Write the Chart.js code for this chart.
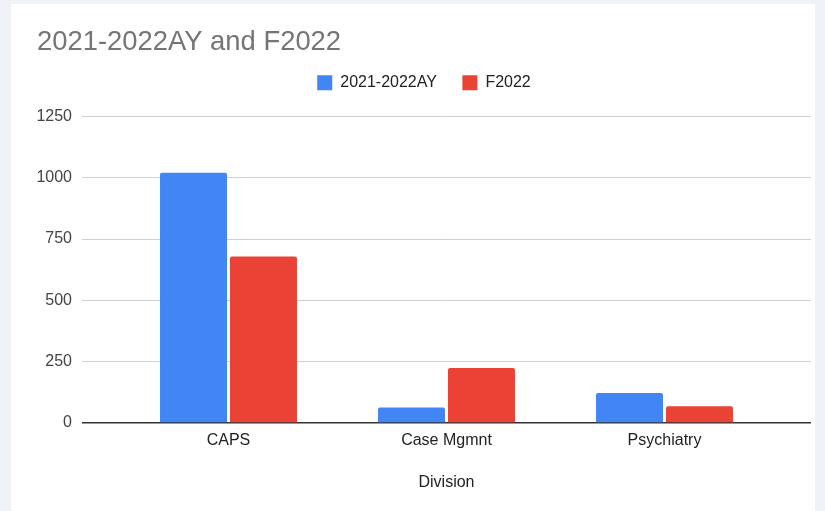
<!DOCTYPE html>
<html>
<head>
<meta charset="utf-8">
<script src="https://cdn.jsdelivr.net/npm/chart.js@4"></script>
<style>
  html, body { margin: 0; padding: 0; background: #eff3f8; }
  #card { position: absolute; left: 11px; top: 4px; width: 804px; height: 507px; background: #fff; }
  #wrap { position: absolute; left: 0; top: 0; width: 825px; height: 511px; }
</style>
</head>
<body>
<div id="card"></div>
<div id="wrap"><canvas id="chart" width="825" height="511"></canvas></div>
<script>
const divisions = ["CAPS", "Case Mgmnt", "Psychiatry"];
const seriesNames = ["2021-2022AY", "F2022"];
const ay2122 = [1020, 63, 122];
const f2022 = [679, 224, 68];
const yTicks = [0, 250, 500, 750, 1000, 1250];

const FONT = "'Liberation Sans', Arial, sans-serif";

// bars sit on a linear x axis so the categories can be inset like the original
const toPoints = vals => vals.map((v, i) => ({ x: i, y: v }));

new Chart(document.getElementById("chart"), {
  type: "bar",
  data: {
    datasets: [
      { label: seriesNames[0], data: toPoints(ay2122), backgroundColor: "#4285f4" },
      { label: seriesNames[1], data: toPoints(f2022), backgroundColor: "#ea4335" },
    ],
  },
  options: {
    responsive: false,
    animation: false,
    categoryPercentage: 0.642,
    barPercentage: 0.957,
    borderRadius: { topLeft: 2, topRight: 2 },
    borderSkipped: "start",
    layout: { padding: { left: 37, right: 14, top: 4, bottom: 8 } },
    plugins: {
      tooltip: { enabled: false },
      title: {
        display: true,
        text: "2021-2022AY and F2022",
        align: "start",
        color: "#757575",
        font: { family: FONT, size: 27.4, weight: "normal", lineHeight: 0.5 },
        padding: { top: 31.5, bottom: 0 },
      },
      legend: {
        labels: {
          color: "#222",
          boxWidth: 15,
          boxHeight: 15,
          padding: 25.5,
          font: { family: FONT, size: 16 },
        },
      },
      // empty spacer between the legend and the plot
      subtitle: {
        display: true,
        text: "",
        weight: 500,
        padding: 0,
        font: { size: 15.7, lineHeight: 1 },
      },
    },
    scales: {
      x: {
        type: "linear",
        offset: false,
        bounds: "data",
        min: -0.672,
        max: divisions.length - 1 + 0.672,
        afterBuildTicks: s => { s.ticks = divisions.map((_, i) => ({ value: i })); },
        afterFit: s => { s.height = 80; },
        grid: { display: false, drawTicks: false },
        border: { display: false },
        ticks: {
          color: "#222",
          padding: 7.5,
          font: { family: FONT, size: 16 },
          callback: v => divisions[v],
        },
        title: {
          display: true,
          text: "Division",
          color: "#222",
          font: { family: FONT, size: 16 },
          padding: { top: 0, bottom: 10.4 },
        },
      },
      y: {
        min: yTicks[0],
        max: yTicks[yTicks.length - 1],
        afterBuildTicks: s => { s.ticks = yTicks.map(v => ({ value: v })); },
        afterFit: s => { s.width = 45; },
        border: { display: false },
        grid: {
          drawTicks: false,
          color: c => (c.tick && c.tick.value === 0 ? "#333" : "#d0d0d0"),
          lineWidth: c => (c.tick && c.tick.value === 0 ? 1.6 : 1),
        },
        ticks: {
          color: "#444",
          padding: 10,
          font: { family: FONT, size: 16 },
          callback: v => String(v),
        },
      },
    },
  },
});
</script>
</body>
</html>
